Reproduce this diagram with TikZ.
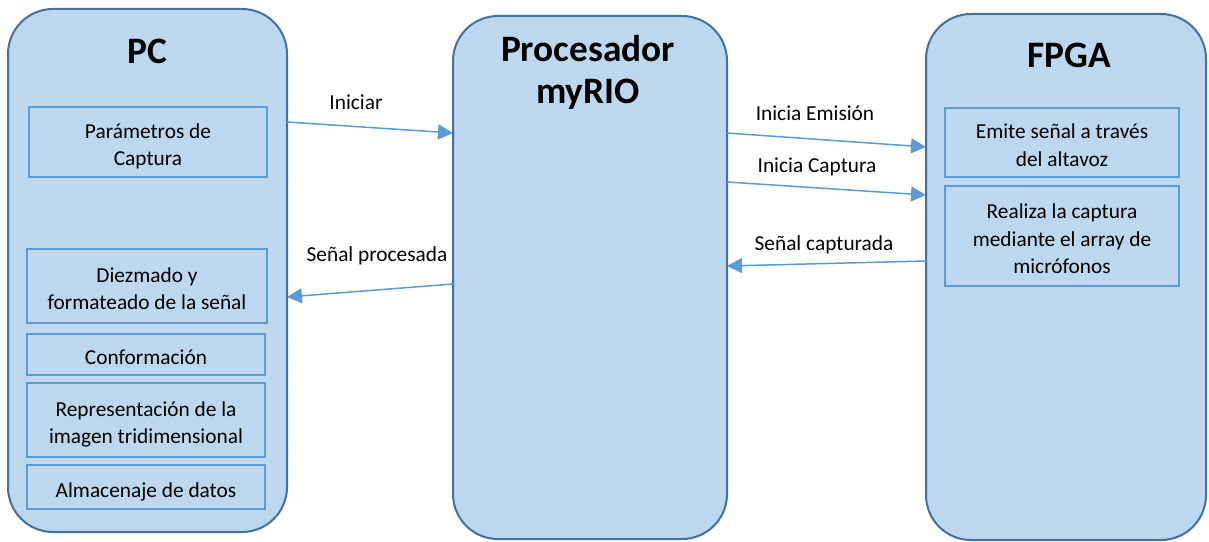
\documentclass[tikz,border=0pt]{standalone}
\usepackage{fontspec}
\setmainfont{Carlito}
\usepackage{tikz}
\usetikzlibrary{calc,positioning,arrows.meta}
\definecolor{bloque}{HTML}{BDD7EE}
\definecolor{borde}{HTML}{41719C}
\definecolor{linea}{HTML}{5B9BD5}
\newlength\pxu
\setlength\pxu{0.75pt}
\tikzset{
block/.style={draw=borde, line width=2\pxu, fill=bloque, rounded corners=45\pxu, inner sep=0pt, outer sep=0pt}, % big rounded blocks
task/.style={draw=linea, line width=1.3\pxu, fill=bloque, inner sep=0pt, outer sep=0pt, text width=225\pxu, align=flush center, font=\fontsize{16}{20.7}\selectfont,
  execute at begin node=\rule{0pt}{18.2pt}, execute at end node=\rule[-3.2pt]{0pt}{0pt}},
title/.style={font=\fontsize{28}{31.5}\selectfont\bfseries, align=center, inner sep=0pt},
lbl/.style={font=\fontsize{16}{21}\selectfont, inner sep=0pt},
flow/.style={draw=linea, line width=1.5\pxu, -{Triangle[length=11.25pt,width=11.25pt]}},
}

\begin{document}
\begin{tikzpicture}[x=\pxu,y=-\pxu]
   \useasboundingbox[fill=white] (0,0) rectangle (1209,542);
   % main blocks
   \node[block, minimum width=279\pxu, minimum height=523\pxu] (pc) at (147.5,270.5) {};
   \node[block, minimum width=274\pxu, minimum height=523\pxu] (myrio) at (590,277.5) {};
   \node[block, minimum width=280\pxu, minimum height=526\pxu] (fpga) at (1066,277) {};
   \node[title] (t_pc) at (147,51) {PC};
   \node[title] (t_myrio) at (588,72) {Procesador\\myRIO};
   \node[title] (t_fpga) at (1069,55) {FPGA};
   % PC tasks
   \node[task, minimum width=238\pxu, minimum height=70\pxu] (p_1) at (148,142) {Parámetros de\\Captura};
   \node[task, minimum width=240\pxu, minimum height=74\pxu] (p_2) at (147,286) {Diezmado y\\formateado de la señal};
   \node[task, minimum width=238\pxu, minimum height=41\pxu] (p_3) at (146,354.5) {Conformación};
   \node[task, minimum width=238\pxu, minimum height=74\pxu] (p_4) at (146,420) {Representación de la\\imagen tridimensional};
   \node[task, minimum width=238\pxu, minimum height=44\pxu] (p_5) at (146,487) {Almacenaje de datos};
   % FPGA tasks
   \node[task, minimum width=234\pxu, minimum height=69\pxu] (f_1) at (1062,142.5) {Emite señal a través\\del altavoz};
   \node[task, minimum width=234\pxu, minimum height=100\pxu] (f_2) at (1062,236) {Realiza la captura\\mediante el array de\\micrófonos};
   % arrows
   \draw[flow] ($(pc.north east)+(0,113)$) -- ($(myrio.north west)+(0,117)$);
   \draw[flow] ($(myrio.north west)+(0,268)$) -- ($(pc.north east)+(0,288)$);
   \draw[flow] ($(myrio.north east)+(0,117)$) -- ($(fpga.north west)+(0,133)$);
   \draw[flow] ($(myrio.north east)+(0,166)$) -- ($(fpga.north west)+(0,181)$);
   \draw[flow] ($(fpga.north west)+(0,247)$) -- ($(myrio.north east)+(0,250)$);
   \node[lbl] (l_ini) at (356,102) {Iniciar};
   \node[lbl] (l_proc) at (377,256) {Señal procesada};
   \node[lbl] (l_emi) at (815,113) {Inicia Emisión};
   \node[lbl] (l_cap) at (817,167) {Inicia Captura};
   \node[lbl] (l_capt) at (824,245) {Señal capturada};
\end{tikzpicture}
\end{document}
